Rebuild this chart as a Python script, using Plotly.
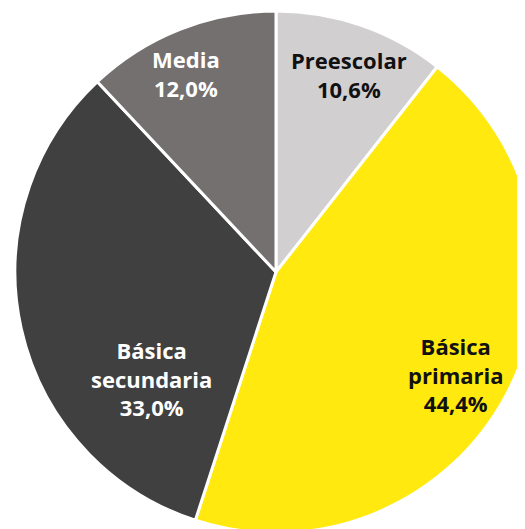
import plotly.graph_objects as go

niveles = ['Preescolar', 'Básica<br>primaria', 'Básica<br>secundaria', 'Media']
porcentajes = [10.6, 44.4, 33.0, 12.0]
etiquetas = ['10,6%', '44,4%', '33,0%', '12,0%']

COULEURS = ['#d1cfd0', '#ffe90f', '#404040', '#747070']
TEXTE = ['#111111', '#111111', '#ffffff', '#ffffff']

# position des étiquettes (pixels dans la figure)
POS_X = [341, 448, 143, 178]
POS_Y = [66, 366, 370, 65]

W, H = 540, 535

fig = go.Figure(go.Pie(
    labels = niveles,
    values = porcentajes,
    sort = False,
    direction = 'clockwise',
    rotation = 0,
    textinfo = 'none',
    marker = dict(colors = COULEURS, line = dict(color = 'white', width = 3)),
    hoverinfo = 'none',
    domain = dict(x = [7 / W, 529 / W], y = [1 - 525 / H, 1 - 3 / H]),
))

for nom, pct, couleur, px_, py_ in zip(niveles, etiquetas, TEXTE, POS_X, POS_Y):
    fig.add_annotation(
        x = px_ / W, y = 1 - py_ / H, xref = 'paper', yref = 'paper',
        text = nom + '<br>' + pct, showarrow = False,
        xanchor = 'center', yanchor = 'middle', align = 'center',
        font = dict(family = 'Open Sans', size = 22, color = couleur, weight = 'bold'),
    )

fig.update_layout(
    width = W,
    height = H,
    margin = dict(l = 0, r = 0, t = 0, b = 0),
    showlegend = False,
    paper_bgcolor = 'white',
)

fig.write_html('out.html')
